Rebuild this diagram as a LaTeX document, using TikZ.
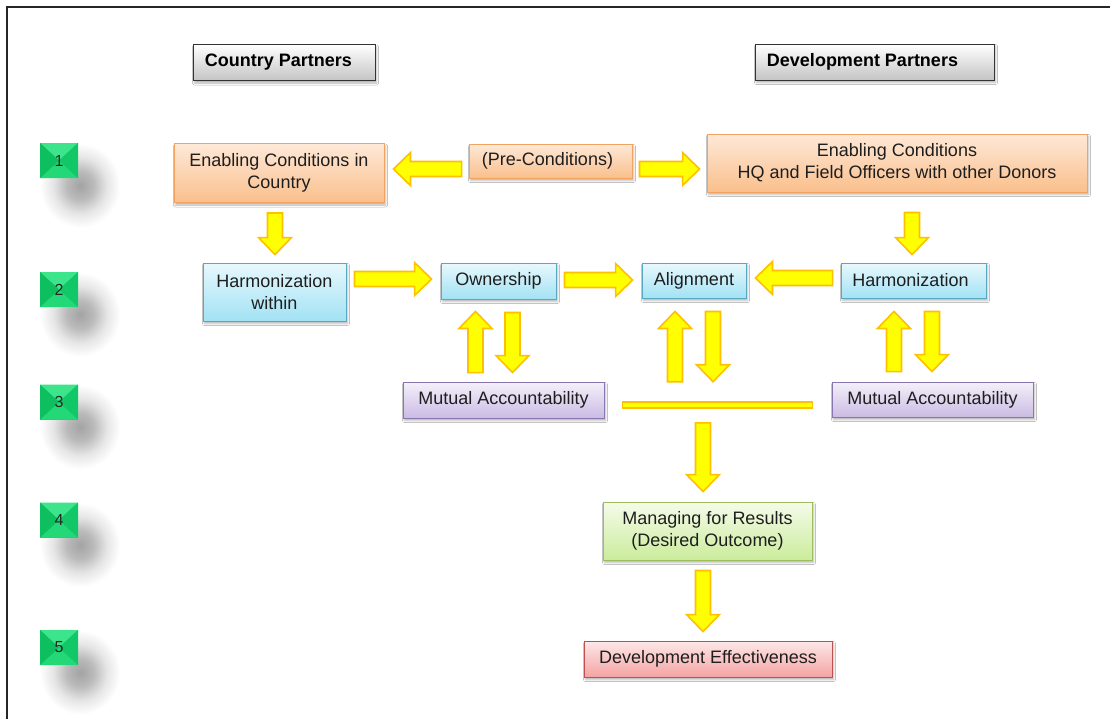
\documentclass[tikz,border=0pt]{standalone}
\usepackage{fontspec}
\setmainfont{Liberation Sans}
\usetikzlibrary{calc,shadows.blur}

\definecolor{txt}{HTML}{1E1E1E}
\definecolor{orT}{HTML}{FEE9D8}
\definecolor{orBo}{HTML}{FABF8C}
\definecolor{orD}{HTML}{F2A360}
\definecolor{blT}{HTML}{E8F8FD}
\definecolor{blBo}{HTML}{A2E2F4}
\definecolor{blD}{HTML}{5AA7C2}
\definecolor{puT}{HTML}{F4F0FA}
\definecolor{puBo}{HTML}{CBBBE4}
\definecolor{puD}{HTML}{8A76AE}
\definecolor{grT}{HTML}{F5FBEA}
\definecolor{grBo}{HTML}{CBEC9C}
\definecolor{grD}{HTML}{9DBE5C}
\definecolor{reT}{HTML}{FDE8E8}
\definecolor{reBo}{HTML}{F5A3A3}
\definecolor{reD}{HTML}{C0504D}
\definecolor{hdBo}{HTML}{C4C4C4}
\definecolor{arY}{HTML}{FFFF00}
\definecolor{arB}{HTML}{FFC000}
\definecolor{sqG}{HTML}{18D26E}
\definecolor{sqTop}{HTML}{3CE58C}
\definecolor{sqBot}{HTML}{22D877}
\definecolor{sqL}{HTML}{0DBF5E}
\definecolor{sqR}{HTML}{12C866}

\pgfdeclareradialshading{softshadow}{\pgfpoint{0bp}{0bp}}{%
  color(0bp)=(black!36); color(8bp)=(black!27); color(16bp)=(black!10); color(24bp)=(white); color(50bp)=(white)}

\tikzset{
  box/.style={draw, line width=0.9pt, align=center, inner sep=0pt, text=txt,
    font=\fontsize{18}{22}\selectfont,
    blur shadow={shadow xshift=1.5pt, shadow yshift=-2.5pt, shadow blur radius=2pt, shadow opacity=30}},
  orangebox/.style={box, draw=orD, top color=orT, bottom color=orBo},
  bluebox/.style={box, draw=blD, top color=blT, bottom color=blBo},
  purplebox/.style={box, draw=puD, top color=puT, bottom color=puBo},
  greenbox/.style={box, draw=grD, top color=grT, bottom color=grBo},
  redbox/.style={box, draw=reD, top color=reT, bottom color=reBo},
  header/.style={box, draw=black!80, line width=1pt, top color=white, bottom color=hdBo,
    font=\fontsize{18}{22}\selectfont\bfseries, text=black},
  numsq/.style={minimum width=38pt, minimum height=35pt, inner sep=0pt, fill=sqG,
    font=\fontsize{16}{18}\selectfont, text=black!85,
    path picture={
      \fill[sqTop] (path picture bounding box.north west) -- (path picture bounding box.north east) -- (path picture bounding box.center) -- cycle;
      \fill[sqBot] (path picture bounding box.south west) -- (path picture bounding box.south east) -- (path picture bounding box.center) -- cycle;
      \fill[sqL] (path picture bounding box.north west) -- (path picture bounding box.south west) -- (path picture bounding box.center) -- cycle;
      \fill[sqR] (path picture bounding box.north east) -- (path picture bounding box.south east) -- (path picture bounding box.center) -- cycle;
    }},
  sqshadow/.style={shading=softshadow},
  blockarrow/.style={fill=arY, draw=arB, line width=1.6pt, line join=miter},
  barline/.style={fill=arY, draw=arB, line width=1.6pt, minimum width=190pt, minimum height=6pt, inner sep=0pt},
}

\newcommand\barrow[2]{%
  \coordinate (bs) at (#1);
  \coordinate (be) at (#2);
  \coordinate (bq) at ($(be)!17pt!(bs)$);
  \filldraw[blockarrow] ($(bs)!7.5pt!90:(be)$) -- ($(bq)!7.5pt!90:(be)$) -- ($(bq)!16.5pt!90:(be)$)
    -- (be) -- ($(bq)!16.5pt!-90:(be)$) -- ($(bq)!7.5pt!-90:(be)$) -- ($(bs)!7.5pt!-90:(be)$) -- cycle;
}

\begin{document}
\begin{tikzpicture}[x=1pt, y=-1pt]
\useasboundingbox (0,0) rectangle (1110,718);
\fill[white] (0,0) rectangle (1110,718);

% soft shadows of the level squares
\foreach \yy in {160.5,289.5,402,520,647.5}
  \shade[sqshadow] (80,\yy+25) ellipse [x radius=42pt, y radius=44pt];

\draw[line width=1.6pt, black!85] (7,720) -- (7,7) -- (1112,7);

% headers
\node[header, minimum width=182pt, minimum height=36pt] (cp) at (284,62.5) {Country Partners\hspace*{11pt}};
\node[header, minimum width=239pt, minimum height=36pt] (dp) at (874.5,62) {Development Partners\hspace*{24pt}};

% level squares
\node[numsq] (n1) at (59,160.5) {1};
\node[numsq] (n2) at (59,289.5) {2};
\node[numsq] (n3) at (59,402) {3};
\node[numsq] (n4) at (59,520) {4};
\node[numsq] (n5) at (59,647.5) {5};

% row 1
\node[orangebox, minimum width=210pt, minimum height=59pt] (ec) at (279,173) {Enabling Conditions in\\Country};
\node[orangebox, minimum width=163pt, minimum height=34pt] (pre) at (550.5,161) {(Pre-Conditions)\hspace*{6pt}};
\node[orangebox, minimum width=380pt, minimum height=58pt] (hq) at (897,163) {Enabling Conditions\\HQ and Field Officers with other Donors};

% row 2
\node[bluebox, minimum width=143pt, minimum height=58pt] (hw) at (274.5,292) {Harmonization\\within};
\node[bluebox, minimum width=115pt, minimum height=36pt] (own) at (498.5,281) {Ownership};
\node[bluebox, minimum width=104pt, minimum height=35pt] (al) at (694,280.5) {Alignment};
\node[bluebox, minimum width=145pt, minimum height=35pt] (hr) at (913.5,280.5) {Harmonization\hspace*{6pt}};

% row 3
\node[purplebox, minimum width=201pt, minimum height=36pt] (ma1) at (503.5,400) {Mutual Accountability};
\node[barline] (bar) at (717.5,405) {};
\node[purplebox, minimum width=201pt, minimum height=35pt] (ma2) at (932.5,399.5) {Mutual Accountability};

% rows 4-5
\node[greenbox, minimum width=209pt, minimum height=58pt] (mr) at (707.5,531) {Managing for Results\\(Desired Outcome)};
\node[redbox, minimum width=248pt, minimum height=36pt] (de) at (708,659) {Development Effectiveness};

% arrows
\barrow{$(pre.west)+(-7,8)$}{$(pre.west -| ec.east)+(9,8)$}
\barrow{$(pre.east)+(7,8)$}{$(pre.east -| hq.west)+(-7,8)$}
\barrow{$(ec.south)+(-4,10)$}{$(ec.south |- hw.north)+(-4,-8)$}
\barrow{$(hq.south)+(15,20)$}{$(hq.south |- hr.north)+(15,-8)$}
\barrow{$(hw.east)+(8,-13)$}{$(hw.east -| own.west)+(-9,-13)$}
\barrow{$(own.east)+(8,-1)$}{$(own.east -| al.west)+(-9,-1)$}
\barrow{$(hr.west)+(-8,-2.5)$}{$(hr.west -| al.east)+(9,-2.5)$}
% ownership / mutual accountability
\barrow{$(ma1.north)+(-28,-9)$}{$(ma1.north |- own.south)+(-28,12)$}
\barrow{$(own.south)+(14,13)$}{$(own.south |- ma1.north)+(14,-9)$}
% alignment / bar
\barrow{$(bar.north -| al.south)+(-19,-19.5)$}{$(al.south)+(-19,13)$}
\barrow{$(al.south)+(19,13)$}{$(al.south |- bar.north)+(19,-19.5)$}
% harmonization / mutual accountability
\barrow{$(ma2.north)+(-38.5,-10)$}{$(ma2.north |- hr.south)+(-38.5,13)$}
\barrow{$(hr.south)+(18.5,13)$}{$(hr.south |- ma2.north)+(18.5,-10)$}
% down to results
\barrow{$(bar.south -| mr.north)+(-4.5,14)$}{$(mr.north)+(-4.5,-10)$}
\barrow{$(mr.south)+(-4.5,10)$}{$(mr.south |- de.north)+(-4.5,-9)$}
\end{tikzpicture}
\end{document}
